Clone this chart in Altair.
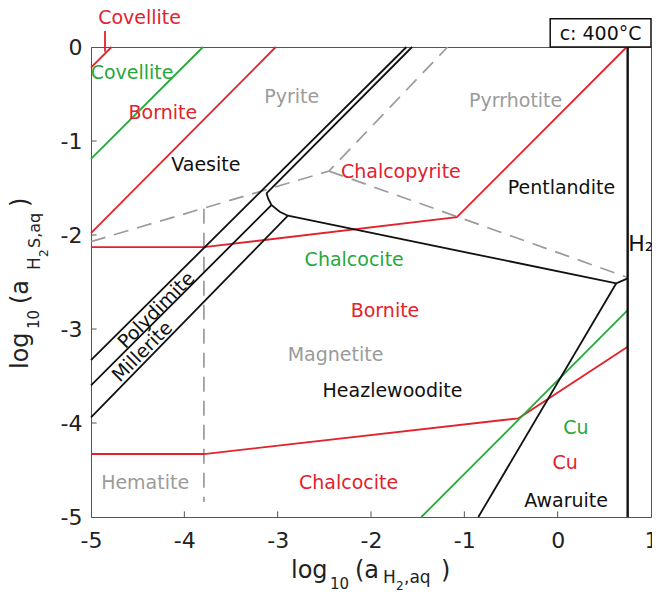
import altair as alt
import pandas as pd

FONT = "DejaVu Sans"
RED = "#e2222d"
GREEN = "#27a83a"
GREY = "#9b9b9b"
BLACK = "#111111"

# ---------------- data ----------------
x_ticks = [-5, -4, -3, -2, -1, 0, 1]
y_ticks = [-5, -4, -3, -2, -1, 0]
x_inner_ticks = [-4, -3, -2, -1, 0]
y_inner_ticks = [-4, -3, -2, -1]

# Cu-Fe-S boundaries (red)
red_covellite_x = [-5.0, -4.78]
red_covellite_y = [-0.22, 0.0]
red_leader_x = [-4.85, -4.85]
red_leader_y = [0.17, -0.05]
red_bornite_x = [-5.0, -3.02]
red_bornite_y = [-1.98, 0.0]
red_chalcopyrite_x = [-5.0, -3.79, -1.08, 0.74]
red_chalcopyrite_y = [-2.13, -2.13, -1.81, 0.0]
red_cu_x = [-5.0, -3.79, -0.42, 0.75]
red_cu_y = [-4.33, -4.33, -3.95, -3.19]

# Cu-S boundaries (green)
green_covellite_x = [-5.0, -3.80]
green_covellite_y = [-1.19, 0.0]
green_cu_x = [-1.46, 0.75]
green_cu_y = [-5.0, -2.80]

# Ni-Fe-S boundaries (black)
black_vaesite_x = [-5.0, -1.62]
black_vaesite_y = [-3.33, 0.0]
black_pentlandite_x = [-3.12, -1.56]
black_pentlandite_y = [-1.556, 0.0]
black_triple_x = [-3.12, -3.10, -3.067, -2.978, -2.89]
black_triple_y = [-1.556, -1.617, -1.681, -1.752, -1.795]
black_polydymite_x = [-5.0, -3.067]
black_polydymite_y = [-3.60, -1.681]
black_millerite_x = [-5.0, -2.89]
black_millerite_y = [-3.94, -1.795]
black_heazlewoodite_x = [-2.89, 0.628, 0.751]
black_heazlewoodite_y = [-1.795, -2.514, -2.461]
black_awaruite_x = [-0.85, 0.628]
black_awaruite_y = [-5.0, -2.514]
h2_x = [0.75, 0.75]
h2_y = [-5.0, 0.0]

# Fe-S-O boundaries (grey dashed)
grey_pyrite_x = [-5.0, -2.45, -1.18]
grey_pyrite_y = [-2.07, -1.32, 0.0]
grey_pyrrhotite_x = [-2.45, 0.737]
grey_pyrrhotite_y = [-1.32, -2.447]
grey_hematite_x = [-3.79, -3.79]
grey_hematite_y = [-1.72, -4.84]

# field labels
label_text = ["Covellite", "Covellite", "Bornite", "Vaesite", "Pyrite", "Pyrrhotite",
              "Chalcopyrite", "Pentlandite", "Chalcocite", "Bornite", "Magnetite",
              "Heazlewoodite", "Hematite", "Chalcocite", "Cu", "Cu", "Awaruite"]
label_x = [-4.48, -4.56, -4.23, -3.77, -2.85, -0.45, -1.68, 0.04, -2.18, -1.85, -2.38,
           -1.77, -4.42, -2.24, 0.196, 0.08, 0.09]
label_y = [0.31, -0.28, -0.70, -1.25, -0.53, -0.57, -1.33, -1.50, -2.27, -2.81, -3.28,
           -3.66, -4.64, -4.64, -4.05, -4.43, -4.83]
label_system = ["Cu-Fe-S", "Cu-S", "Cu-Fe-S", "Ni-Fe-S", "Fe-S-O", "Fe-S-O",
                "Cu-Fe-S", "Ni-Fe-S", "Cu-S", "Cu-Fe-S", "Fe-S-O",
                "Ni-Fe-S", "Fe-S-O", "Cu-Fe-S", "Cu-S", "Cu-Fe-S", "Ni-Fe-S"]
rot_text = ["Polydimite", "Millerite"]
rot_x = [-4.30, -4.45]
rot_y = [-2.80, -3.24]
h2_label = ["H\u2082,aq"]
h2_label_x = [0.757]
h2_label_y = [-2.17]
panel_label = ["c: 400\u00b0C"]
panel_box_x = [-0.08]
panel_box_x2 = [1.0]
panel_box_y = [0.30]
panel_box_y2 = [0.0]

systems = ["Cu-Fe-S", "Cu-S", "Ni-Fe-S", "Fe-S-O"]
system_colors = [RED, GREEN, BLACK, GREY]

lines = [
    ("Cu-Fe-S", "r1", red_covellite_x, red_covellite_y),
    ("Cu-Fe-S", "r2", red_leader_x, red_leader_y),
    ("Cu-Fe-S", "r3", red_bornite_x, red_bornite_y),
    ("Cu-Fe-S", "r4", red_chalcopyrite_x, red_chalcopyrite_y),
    ("Cu-Fe-S", "r5", red_cu_x, red_cu_y),
    ("Cu-S", "g1", green_covellite_x, green_covellite_y),
    ("Cu-S", "g2", green_cu_x, green_cu_y),
    ("Ni-Fe-S", "b1", black_vaesite_x, black_vaesite_y),
    ("Ni-Fe-S", "b2", black_pentlandite_x, black_pentlandite_y),
    ("Ni-Fe-S", "b3", black_triple_x, black_triple_y),
    ("Ni-Fe-S", "b4", black_polydymite_x, black_polydymite_y),
    ("Ni-Fe-S", "b5", black_millerite_x, black_millerite_y),
    ("Ni-Fe-S", "b6", black_heazlewoodite_x, black_heazlewoodite_y),
    ("Ni-Fe-S", "b7", black_awaruite_x, black_awaruite_y),
    ("Fe-S-O", "d1", grey_pyrite_x, grey_pyrite_y),
    ("Fe-S-O", "d2", grey_pyrrhotite_x, grey_pyrrhotite_y),
    ("Fe-S-O", "d3", grey_hematite_x, grey_hematite_y),
]

rows = []
for sysname, seg, xs, ys in lines:
    for i, (xv, yv) in enumerate(zip(xs, ys)):
        rows.append({"system": sysname, "seg": seg, "i": i, "x": xv, "y": yv})
line_df = pd.DataFrame(rows)
solid_df = line_df[line_df.system != "Fe-S-O"]
dash_df = line_df[line_df.system == "Fe-S-O"]
h2_df = pd.DataFrame({"x": h2_x, "y": h2_y})

labels_df = pd.DataFrame({"t": label_text, "x": label_x, "y": label_y, "system": label_system})
rot_df = pd.DataFrame({"t": rot_text, "x": rot_x, "y": rot_y})
h2_lab_df = pd.DataFrame({"t": h2_label, "x": h2_label_x, "y": h2_label_y})
box_df = pd.DataFrame({"x": panel_box_x, "x2": panel_box_x2, "y": panel_box_y, "y2": panel_box_y2,
                       "t": panel_label})
box_df["xc"] = (box_df.x + box_df.x2) / 2
box_df["yc"] = (box_df.y + box_df.y2) / 2

xtick_df = pd.DataFrame({"x": x_inner_ticks, "y": [-5.0] * len(x_inner_ticks),
                         "y2": [-4.94] * len(x_inner_ticks)})
ytick_df = pd.DataFrame({"y": y_inner_ticks, "x": [-5.0] * len(y_inner_ticks),
                         "x2": [-4.94] * len(y_inner_ticks)})

# ---------------- encodings ----------------
xscale = alt.Scale(domain=[-5, 1], nice=False, zero=False)
yscale = alt.Scale(domain=[-5, 0], nice=False, zero=False)
x_axis = alt.Axis(values=x_ticks, labelExpr="'' + datum.value", ticks=False, grid=False,
                  labelPadding=13, labelFontSize=22, labelFont=FONT, labelColor="#222",
                  domainColor="#555", labelFlush=False, labelOverlap=False)
y_axis = alt.Axis(values=y_ticks, labelExpr="'' + datum.value", ticks=False, grid=False,
                  labelPadding=9, labelFontSize=22, labelFont=FONT, labelColor="#222",
                  domainColor="#555", labelFlush=False, labelOverlap=False)
X = alt.X("x:Q", scale=xscale, axis=x_axis, title=None)
Y = alt.Y("y:Q", scale=yscale, axis=y_axis, title=None)
color_scale = alt.Scale(domain=systems, range=system_colors)

xticks = alt.Chart(xtick_df).mark_rule(color="#555", strokeWidth=1).encode(x=X, y=Y, y2="y2:Q")
yticks = alt.Chart(ytick_df).mark_rule(color="#555", strokeWidth=1).encode(x=X, x2="x2:Q", y=Y)

dashed = alt.Chart(dash_df).mark_line(strokeWidth=1.7, strokeDash=[15, 9], color=GREY).encode(
    x=X, y=Y, detail="seg:N", order="i:Q")
solid = alt.Chart(solid_df).mark_line(strokeWidth=1.8).encode(
    x=X, y=Y, detail="seg:N", order="i:Q",
    color=alt.Color("system:N", scale=color_scale, legend=None))
h2line = alt.Chart(h2_df).mark_line(strokeWidth=2.4, color=BLACK).encode(x=X, y=Y)

labels = alt.Chart(labels_df).mark_text(font=FONT, fontSize=19, align="center",
                                        baseline="middle").encode(
    x=X, y=Y, text="t:N", color=alt.Color("system:N", scale=color_scale, legend=None))
rot_labels = alt.Chart(rot_df).mark_text(font=FONT, fontSize=19, align="center",
                                         baseline="middle", angle=315, color=BLACK).encode(
    x=X, y=Y, text="t:N")
h2_text = alt.Chart(h2_lab_df).mark_text(font=FONT, fontSize=22, align="left",
                                         baseline="alphabetic", color=BLACK).encode(
    x=X, y=Y, text="t:N")
box = alt.Chart(box_df).mark_rect(fill="white", stroke=BLACK, strokeWidth=1.5).encode(
    x=X, x2="x2:Q", y=Y, y2="y2:Q")
box_text = alt.Chart(box_df).mark_text(font=FONT, fontSize=19, align="center",
                                       baseline="middle", color=BLACK, dy=1).encode(
    x=alt.X("xc:Q", scale=xscale, axis=x_axis, title=None),
    y=alt.Y("yc:Q", scale=yscale, axis=y_axis, title=None), text="t:N")


def piece(text, px, py, size, angle=0):
    return alt.Chart(pd.DataFrame({"t": [text]})).mark_text(
        font=FONT, fontSize=size, align="left", baseline="alphabetic", angle=angle,
        color="#222").encode(x=alt.value(px), y=alt.value(py), text="t:N")


xtitle = [
    piece("log", 200, 531, 24), piece("10", 239, 542, 15), piece("(a", 264, 531, 24),
    piece("H", 292, 536, 17), piece("2", 305, 543, 12), piece(",aq", 313, 536, 17),
    piece(")", 350, 531, 24),
]
ytitle = [
    piece("log", -63, 322, 24, 270), piece("10", -52, 282, 15, 270),
    piece("(a", -63, 257, 24, 270), piece("H", -51, 223, 17, 270),
    piece("2", -43, 210, 12, 270), piece("S,aq", -51, 201, 16, 270),
    piece(")", -63, 160, 24, 270),
]

chart = alt.layer(
    xticks, yticks, dashed, solid, h2line, labels, rot_labels, h2_text, box, box_text,
    *xtitle, *ytitle
).properties(
    width=560, height=470,
    autosize=alt.AutoSizeParams(type="none"),
    padding={"left": 83, "top": 39, "right": 1, "bottom": 74},
    background="white",
).configure_view(stroke="#555", strokeWidth=1)

chart.save("out.html", embed_options={"renderer": "svg", "actions": False})
